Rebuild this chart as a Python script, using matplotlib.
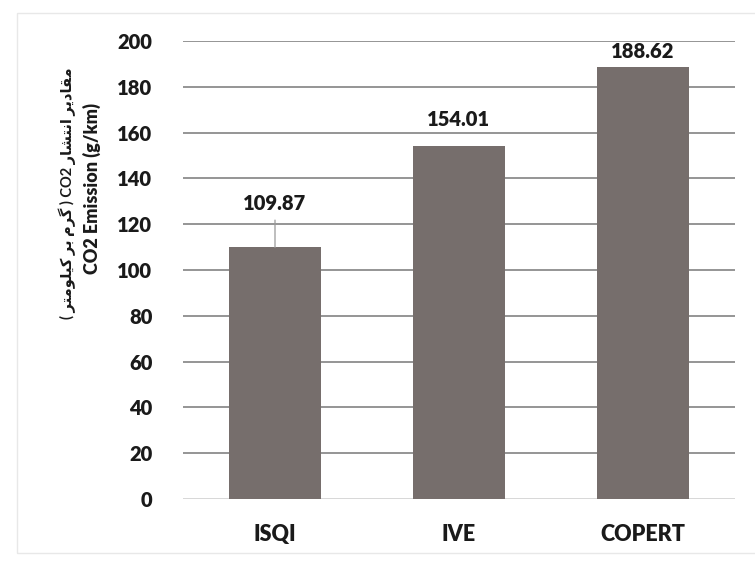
import matplotlib
matplotlib.use("Agg")
import matplotlib.pyplot as plt
from matplotlib.patches import Rectangle

# ---- data ----
models = ["ISQI", "IVE", "COPERT"]
co2_g_per_km = [109.87, 154.01, 188.62]
y_ticks = [0, 20, 40, 60, 80, 100, 120, 140, 160, 180, 200]

ylabel_fa = "مقادیر انتشار CO2 ( گرم بر کیلومتر )"
ylabel_en = "CO2 Emission (g/km)"

# ---- minimal Arabic-script shaping (presentation forms + visual order) ----
# (isolated, final, initial, medial)
FORMS = {
    "م": ("\uFEE1", "\uFEE2", "\uFEE3", "\uFEE4"),
    "ق": ("\uFED5", "\uFED6", "\uFED7", "\uFED8"),
    "ا": ("\uFE8D", "\uFE8E", "\uFE8D", "\uFE8E"),
    "د": ("\uFEA9", "\uFEAA", "\uFEA9", "\uFEAA"),
    "ی": ("\uFBFC", "\uFBFD", "\uFBFE", "\uFBFF"),
    "ر": ("\uFEAD", "\uFEAE", "\uFEAD", "\uFEAE"),
    "ن": ("\uFEE5", "\uFEE6", "\uFEE7", "\uFEE8"),
    "ت": ("\uFE95", "\uFE96", "\uFE97", "\uFE98"),
    "ش": ("\uFEB5", "\uFEB6", "\uFEB7", "\uFEB8"),
    "گ": ("\uFB92", "\uFB93", "\uFB94", "\uFB95"),
    "ب": ("\uFE8F", "\uFE90", "\uFE91", "\uFE92"),
    "ک": ("\uFB8E", "\uFB8F", "\uFB90", "\uFB91"),
    "ل": ("\uFEDD", "\uFEDE", "\uFEDF", "\uFEE0"),
    "و": ("\uFEED", "\uFEEE", "\uFEED", "\uFEEE"),
}
RIGHT_JOINING = set("ادرو")


def shape_word(word):
    out = []
    n = len(word)
    for i, ch in enumerate(word):
        if ch not in FORMS:
            out.append(ch)
            continue
        prev = word[i - 1] if i > 0 else None
        nxt = word[i + 1] if i < n - 1 else None
        jp = prev in FORMS and prev not in RIGHT_JOINING
        jn = nxt in FORMS and ch not in RIGHT_JOINING
        iso, fin, ini, med = FORMS[ch]
        if jp and jn:
            out.append(med)
        elif jp:
            out.append(fin)
        elif jn:
            out.append(ini)
        else:
            out.append(iso)
    return "".join(reversed(out))


def to_visual(text):
    mirror = {"(": ")", ")": "("}
    tokens = text.split(" ")[::-1]
    vis = []
    for t in tokens:
        if any(c in FORMS for c in t):
            vis.append(shape_word(t))
        else:
            vis.append(mirror.get(t, t))
    return " ".join(vis)


# ---- styling ----
W, H = 755, 561
bar_color = "#766e6c"
grid_color = "#8c8c8c"
text_color = "#1a1a1a"
latin = ["Lato", "DejaVu Sans"]
plt.rcParams["font.family"] = latin
WEIGHT = "heavy"

fig = plt.figure(figsize=(W / 100, H / 100), dpi=100)
fig.patch.set_facecolor("white")

# light chart-area frame
fig.patches.append(Rectangle((17 / W, 1 - 553 / H), 1.2, (553 - 13) / H,
                             transform=fig.transFigure, fill=False,
                             edgecolor="#e8e8e8", linewidth=1.0))

ax = fig.add_axes([183 / W, 1 - 499 / H, 552 / W, 458 / H])
x = list(range(len(models)))
ax.bar(x, co2_g_per_km, width=0.505, color=bar_color, zorder=3)

ax.set_xlim(-0.5, len(models) - 0.5)
ax.set_ylim(0, 200)
ax.set_yticks(y_ticks)
ax.set_xticks(x)
ax.set_xticklabels(models)
for s in ax.spines.values():
    s.set_visible(False)
ax.tick_params(axis="both", length=0, colors=text_color)
ax.tick_params(axis="y", pad=22)
ax.tick_params(axis="x", pad=18)
for lab in ax.get_yticklabels():
    lab.set_fontsize(14.5)
    lab.set_fontweight(WEIGHT)
for lab in ax.get_xticklabels():
    lab.set_fontsize(15.5)
    lab.set_fontweight(WEIGHT)

for t in y_ticks:
    if t == 0:
        ax.axhline(t, color="#d4d4d4", lw=2.0, zorder=2)
    else:
        ax.axhline(t, color=grid_color, lw=1.3, zorder=1)

# value labels (first one lifted with a leader line)
label_offsets_pt = [31.5, 19.5, 11.0]
for xi, v, off in zip(x, co2_g_per_km, label_offsets_pt):
    kw = {}
    if off > 25:
        kw["arrowprops"] = dict(arrowstyle="-", color="#9a9a9a", lw=0.9,
                                shrinkA=3, shrinkB=0)
    ax.annotate(f"{v:.2f}", xy=(xi, v), xytext=(0, off),
                textcoords="offset points", ha="center", va="center",
                fontsize=14.5, fontweight=WEIGHT, color=text_color,
                zorder=5, **kw)

# two-line vertical axis title
fig.text(67 / W, 1 - 193 / H, to_visual(ylabel_fa), rotation=90,
         ha="center", va="center", fontsize=10.5, fontweight="bold",
         color=text_color, family=["Lato", "DejaVu Sans"])
fig.text(92 / W, 1 - 189 / H, ylabel_en, rotation=90,
         ha="center", va="center", fontsize=13, fontweight=WEIGHT,
         color=text_color)

fig.savefig("out.png", dpi=100)
